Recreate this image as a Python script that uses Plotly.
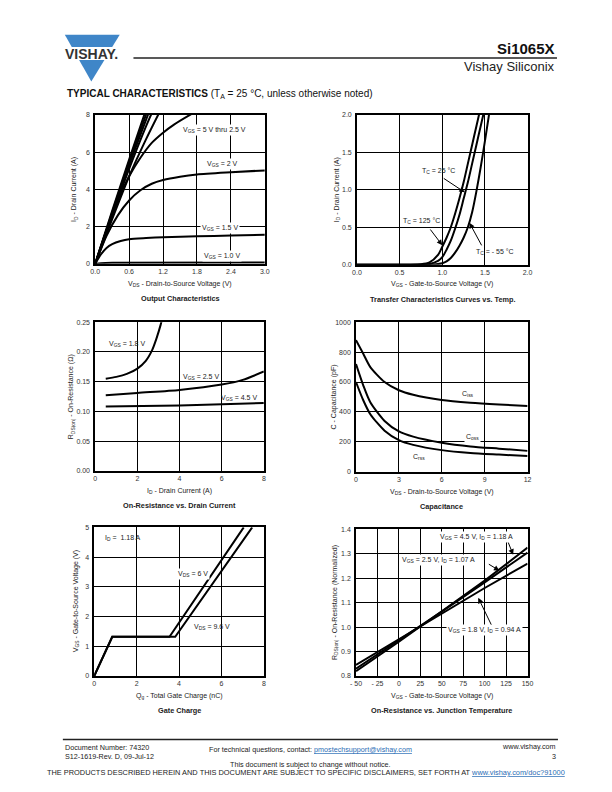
import plotly.graph_objects as go

PAGE_W, PAGE_H = 612, 792
W, H = PAGE_W, PAGE_H
FONT = "Liberation Sans, Arial, Helvetica, sans-serif"

# ---------------- data ----------------
# Output characteristics (VDS in V, ID in A)
oc_vgs5_x = [0, 0.3, 0.6, 0.9]
oc_vgs5_y = [0, 2.85, 5.6, 8.3]
oc_vgs45_x = [0, 0.3, 0.6, 0.92]
oc_vgs45_y = [0, 2.75, 5.45, 8.2]
oc_vgs4_x = [0, 0.3, 0.6, 0.95]
oc_vgs4_y = [0, 2.7, 5.3, 8.15]
oc_vgs35_x = [0, 0.3, 0.6, 0.9, 1.0]
oc_vgs35_y = [0, 2.6, 5.1, 7.4, 8.1]
oc_vgs3_x = [0, 0.3, 0.6, 0.9, 1.12]
oc_vgs3_y = [0, 2.4, 4.7, 6.7, 8.05]
oc_vgs25_x = [0, 0.2, 0.4, 0.6, 0.8, 1.0, 1.2, 1.4, 1.7]
oc_vgs25_y = [0, 1.8, 3.4, 4.7, 5.7, 6.5, 7.05, 7.5, 8.05]
oc_vgs2_x = [0, 0.2, 0.4, 0.6, 0.8, 1.0, 1.2, 1.5, 1.8, 2.4, 3.0]
oc_vgs2_y = [0, 1.5, 2.6, 3.4, 3.95, 4.3, 4.5, 4.68, 4.8, 4.92, 5.02]
oc_vgs15_x = [0, 0.1, 0.2, 0.3, 0.45, 0.6, 0.9, 1.2, 1.8, 2.4, 3.0]
oc_vgs15_y = [0, 0.5, 0.85, 1.05, 1.22, 1.32, 1.38, 1.42, 1.47, 1.52, 1.56]
oc_vgs1_x = [0, 0.1, 0.3, 3.0]
oc_vgs1_y = [0, 0.03, 0.05, 0.06]

# Transfer characteristics (VGS in V, ID in A)
tr_125_x = [0, 0.6, 0.75, 0.85, 0.95, 1.0, 1.05, 1.1, 1.15, 1.2, 1.25, 1.3, 1.35, 1.4, 1.45]
tr_125_y = [0, 0, 0.005, 0.03, 0.13, 0.24, 0.36, 0.5, 0.68, 0.88, 1.1, 1.35, 1.6, 1.85, 2.1]
tr_25_x = [0, 0.7, 0.85, 0.95, 1.0, 1.05, 1.1, 1.15, 1.2, 1.25, 1.3, 1.35, 1.4, 1.45, 1.5]
tr_25_y = [0, 0, 0.01, 0.05, 0.1, 0.2, 0.32, 0.48, 0.66, 0.88, 1.1, 1.35, 1.6, 1.85, 2.1]
tr_m55_x = [0, 0.85, 0.95, 1.0, 1.05, 1.1, 1.15, 1.2, 1.25, 1.3, 1.35, 1.4, 1.45, 1.5, 1.55]
tr_m55_y = [0, 0, 0.01, 0.02, 0.045, 0.09, 0.16, 0.25, 0.36, 0.5, 0.7, 0.98, 1.3, 1.65, 2.02]

# On-resistance vs drain current (ID in A, RDS(on) in ohm)
ron_18_x = [0.5, 1.0, 1.5, 2.0, 2.4, 2.7, 2.9, 3.1, 3.2]
ron_18_y = [0.155, 0.158, 0.163, 0.172, 0.185, 0.203, 0.222, 0.245, 0.26]
ron_25_x = [0.5, 2, 4, 6, 7, 8]
ron_25_y = [0.127, 0.131, 0.136, 0.145, 0.153, 0.167]
ron_45_x = [0.5, 4, 8]
ron_45_y = [0.108, 0.110, 0.114]

# Capacitance (VDS in V, C in pF)
cap_v = [0, 0.5, 1, 2, 3, 4, 6, 8, 10, 12]
cap_ciss = [880, 790, 700, 600, 545, 515, 480, 462, 450, 440]
cap_coss = [720, 580, 465, 340, 270, 235, 195, 170, 155, 140]
cap_crss = [600, 480, 385, 275, 212, 180, 145, 126, 115, 105]

# Gate charge (Qg in nC, VGS in V)
gc_6_x = [0, 0.85, 3.55, 7.05]
gc_6_y = [0, 1.32, 1.32, 5.0]
gc_96_x = [0, 0.85, 3.82, 7.45]
gc_96_y = [0, 1.32, 1.32, 5.0]

# Normalized on-resistance vs junction temperature
tj = [-50, 0, 50, 100, 150]
rn_45 = [0.82, 0.94, 1.065, 1.19, 1.325]
rn_25 = [0.83, 0.945, 1.063, 1.183, 1.305]
rn_18 = [0.845, 0.95, 1.055, 1.16, 1.26]

# ticks
t1x = [0, 0.6, 1.2, 1.8, 2.4, 3.0]; t1xl = ["0.0", "0.6", "1.2", "1.8", "2.4", "3.0"]
t1y = [0, 2, 4, 6, 8]; t1yl = ["0", "2", "4", "6", "8"]
t2x = [0, 0.5, 1.0, 1.5, 2.0]; t2xl = ["0.0", "0.5", "1.0", "1.5", "2.0"]
t2y = [0, 0.5, 1.0, 1.5, 2.0]; t2yl = ["0.0", "0.5", "1.0", "1.5", "2.0"]
t3x = [0, 2, 4, 6, 8]; t3xl = ["0", "2", "4", "6", "8"]
t3y = [0, 0.05, 0.10, 0.15, 0.20, 0.25]; t3yl = ["0.00", "0.05", "0.10", "0.15", "0.20", "0.25"]
t4x = [0, 3, 6, 9, 12]; t4xl = ["0", "3", "6", "9", "12"]
t4y = [0, 200, 400, 600, 800, 1000]; t4yl = ["0", "200", "400", "600", "800", "1000"]
t5x = [0, 2, 4, 6, 8]; t5xl = ["0", "2", "4", "6", "8"]
t5y = [0, 1, 2, 3, 4, 5]; t5yl = ["0", "1", "2", "3", "4", "5"]
t6x = [-50, -25, 0, 25, 50, 75, 100, 125, 150]
t6xl = ["- 50", "- 25", "0", "25", "50", "75", "100", "125", "150"]
t6y = [0.8, 0.9, 1.0, 1.1, 1.2, 1.3, 1.4]; t6yl = ["0.8", "0.9", "1.0", "1.1", "1.2", "1.3", "1.4"]


def px(x):
    return x / W


def py(y):
    return 1 - y / H


# panel page-pixel boxes: left, right, top, bottom
panels = [
    (91, 264, 112, 262),
    (358, 532, 112, 263),
    (91, 263, 321, 471),
    (357, 532, 321, 472),
    (90, 263, 528, 678),
    (357, 532, 530, 678),
]
ranges = [
    ([0, 3], [0, 8], t1x, t1xl, t1y, t1yl),
    ([0, 2], [0, 2], t2x, t2xl, t2y, t2yl),
    ([0, 8], [0, 0.25], t3x, t3xl, t3y, t3yl),
    ([0, 12], [0, 1000], t4x, t4xl, t4y, t4yl),
    ([0, 8], [0, 5], t5x, t5xl, t5y, t5yl),
    ([-50, 150], [0.8, 1.4], t6x, t6xl, t6y, t6yl),
]

fig = go.Figure()
layout = dict(width=W, height=H, margin=dict(l=0, r=0, t=0, b=0),
              paper_bgcolor="white", plot_bgcolor="white",
              font=dict(family=FONT, color="#222", size=7), showlegend=False)
for i, ((l, r, t, b), (xr, yr, xv, xl, yv, yl)) in enumerate(zip(panels, ranges), start=1):
    common = dict(showgrid=True, gridcolor="black", gridwidth=1.1, showline=True,
                  linecolor="black", linewidth=1.6, mirror=True, ticks="",
                  zeroline=False, tickfont=dict(size=7, color="#333", family=FONT),
                  fixedrange=True)
    s = "" if i == 1 else str(i)
    layout["xaxis" + s] = dict(domain=[px(l), px(r)], range=xr, tickmode="array", tickvals=xv,
                               ticktext=xl, anchor="y" + s, ticklabelstandoff=0, **common)
    layout["yaxis" + s] = dict(domain=[py(b), py(t)], range=yr, tickmode="array", tickvals=yv,
                               ticktext=yl, anchor="x" + s, ticklabelstandoff=2, **common)
fig.update_layout(**layout)


def add_line(x, y, i, smooth=True):
    s = "" if i == 1 else str(i)
    line = dict(color="black", width=2)
    if smooth:
        line.update(shape="spline", smoothing=0.7)
    fig.add_trace(go.Scatter(x=x, y=y, mode="lines", line=line, xaxis="x" + s,
                             yaxis="y" + s, hoverinfo="skip", showlegend=False))


for x, y in [(oc_vgs5_x, oc_vgs5_y), (oc_vgs45_x, oc_vgs45_y), (oc_vgs4_x, oc_vgs4_y),
             (oc_vgs35_x, oc_vgs35_y), (oc_vgs3_x, oc_vgs3_y), (oc_vgs25_x, oc_vgs25_y),
             (oc_vgs2_x, oc_vgs2_y), (oc_vgs15_x, oc_vgs15_y), (oc_vgs1_x, oc_vgs1_y)]:
    add_line(x, y, 1)
for x, y in [(tr_125_x, tr_125_y), (tr_25_x, tr_25_y), (tr_m55_x, tr_m55_y)]:
    add_line(x, y, 2)
for x, y in [(ron_18_x, ron_18_y), (ron_25_x, ron_25_y), (ron_45_x, ron_45_y)]:
    add_line(x, y, 3)
for y in [cap_ciss, cap_coss, cap_crss]:
    add_line(cap_v, y, 4)
add_line(gc_6_x, gc_6_y, 5, smooth=False)
add_line(gc_96_x, gc_96_y, 5, smooth=False)
for y in [rn_45, rn_25, rn_18]:
    add_line(tj, y, 6, smooth=False)

ann = []


def label(i, x, y, text, bg=True):
    s = "" if i == 1 else str(i)
    ann.append(dict(xref="x" + s, yref="y" + s, x=x, y=y, text=text, showarrow=False,
                    xanchor="left", yanchor="middle", font=dict(size=7, color="#222"),
                    bgcolor="white" if bg else None, borderpad=1))


def arrow(i, tail, tip):
    s = "" if i == 1 else str(i)
    ann.append(dict(xref="x" + s, yref="y" + s, axref="x" + s, ayref="y" + s,
                    x=tip[0], y=tip[1], ax=tail[0], ay=tail[1], text="", showarrow=True,
                    arrowhead=2, arrowsize=1.1, arrowwidth=1, arrowcolor="black"))


label(1, 1.51, 7.2, "V<sub>GS</sub> = 5 V thru 2.5 V")
label(1, 1.94, 5.39, "V<sub>GS</sub> = 2 V")
label(1, 1.86, 1.92, "V<sub>GS</sub> = 1.5 V")
label(1, 1.89, 0.43, "V<sub>GS</sub> = 1.0 V")
label(2, 0.736, 1.258, "T<sub>C</sub> = 25 °C", bg=False)
arrow(2, (1.0, 1.166), (1.264, 0.967))
label(2, 0.517, 0.589, "T<sub>C</sub> = 125 °C", bg=False)
arrow(2, (0.847, 0.49), (1.0, 0.26))
label(2, 1.368, 0.172, "T<sub>C</sub> = - 55 °C", bg=False)
arrow(2, (1.471, 0.238), (1.318, 0.56))
label(3, 0.56, 0.213, "V<sub>GS</sub> = 1.8 V", bg=False)
label(3, 4.05, 0.158, "V<sub>GS</sub> = 2.5 V", bg=False)
label(3, 5.86, 0.123, "V<sub>GS</sub> = 4.5 V", bg=False)
label(4, 7.27, 523, "C<sub>iss</sub>", bg=False)
label(4, 7.54, 232, "C<sub>oss</sub>")
label(4, 3.84, 99, "C<sub>rss</sub>", bg=False)
label(5, 0.42, 4.63, "I<sub>D</sub> =  1.18 A", bg=False)
label(5, 3.84, 3.43, "V<sub>DS</sub> = 6 V")
label(5, 4.62, 1.65, "V<sub>DS</sub> = 9.6 V", bg=False)
label(6, 46, 1.37, "V<sub>GS</sub> = 4.5 V, I<sub>D</sub> = 1.18 A")
arrow(6, (126.8, 1.352), (133.2, 1.296))
label(6, 1.4, 1.274, "V<sub>GS</sub> = 2.5 V, I<sub>D</sub> = 1.07 A")
arrow(6, (103.1, 1.261), (117.2, 1.231))
label(6, 55.1, 0.989, "V<sub>GS</sub> = 1.8 V, I<sub>D</sub> = 0.94 A")
arrow(6, (108.5, 1.004), (92.5, 1.12))


def ptext(x, y, text, size=7, xanchor="center", bold=False, angle=0, color="#222"):
    ann.append(dict(xref="paper", yref="paper", x=px(x), y=py(y),
                    text=("<b>%s</b>" % text) if bold else text, showarrow=False,
                    xanchor=xanchor, yanchor="middle", textangle=angle,
                    font=dict(size=size, color=color, family=FONT)))


xt = ["V<sub>DS</sub> - Drain-to-Source Voltage (V)",
      "V<sub>GS</sub> - Gate-to-Source Voltage (V)",
      "I<sub>D</sub> - Drain Current (A)",
      "V<sub>DS</sub> - Drain-to-Source Voltage (V)",
      "Q<sub>g</sub> - Total Gate Charge (nC)",
      "V<sub>GS</sub> - Gate-to-Source Voltage (V)"]
yt = ["I<sub>D</sub> - Drain Current (A)",
      "I<sub>D</sub> - Drain Current (A)",
      "R<sub>DS(on)</sub> - On-Resistance (Ω)",
      "C - Capacitance (pF)",
      "V<sub>GS</sub> - Gate-to-Source Voltage (V)",
      "R<sub>DS(on)</sub> - On-Resistance (Normalized)"]
caps = ["Output Characteristics", "Transfer Characteristics Curves vs. Temp.",
        "On-Resistance vs. Drain Current", "Capacitance", "Gate Charge",
        "On-Resistance vs. Junction Temperature"]
ytx = [70, 337, 66, 335, 71, 335]
for (l, r, t, b), xtt, ytt, cp, yx in zip(panels, xt, yt, caps, ytx):
    ptext((l + r) / 2, b + 20, xtt)
    ptext(yx, (t + b) / 2, ytt, angle=-90)
    ptext((l + r) / 2, b + 35, cp, size=7.3, bold=True)

# header
ptext(87.5, 50, "VISHAY.", size=14, bold=True, color="#333")
ptext(562, 45, "Si1065X", size=15, xanchor="right", bold=True, color="#111")
ptext(562, 63, "Vishay Siliconix", size=13, xanchor="right", color="#222")
ptext(60, 91, "<b>TYPICAL CHARACTERISTICS</b> (T<sub>A</sub> = 25 °C, unless otherwise noted)",
      size=10, xanchor="left", color="#111")

# footer
LINK = "<span style='color:#2a6db5;text-decoration:underline'>%s</span>"
ptext(58, 750, "Document Number: 74320", size=7.2, xanchor="left")
ptext(58, 759.5, "S12-1619-Rev. D, 09-Jul-12", size=7.2, xanchor="left")
ptext(311, 752, "For technical questions, contact: " + LINK % "pmostechsupport@vishay.com", size=7.2)
ptext(563, 749.5, "www.vishay.com", size=7.2, xanchor="right")
ptext(563, 759, "3", size=7.2, xanchor="right")
ptext(311, 767, "This document is subject to change without notice.", size=7.2)
ptext(40, 775.5, "THE PRODUCTS DESCRIBED HEREIN AND THIS DOCUMENT ARE SUBJECT TO SPECIFIC DISCLAIMERS, SET FORTH AT "
      + LINK % "www.vishay.com/doc?91000", size=7.4, xanchor="left")

shapes = []
# logo
apex = (87, 78.3)
shapes.append(dict(type="path", xref="paper", yref="paper", line=dict(width=0), fillcolor="#3f86c8",
                   path="M %f,%f L %f,%f L %f,%f L %f,%f Z" % (px(60), py(31), px(116), py(31),
                                                               px(108.3), py(43.5), px(67.1), py(43.5))))
shapes.append(dict(type="path", xref="paper", yref="paper", line=dict(width=0), fillcolor="#3f86c8",
                   path="M %f,%f L %f,%f L %f,%f Z" % (px(74.6), py(56.5), px(100.4), py(56.5),
                                                        px(apex[0]), py(apex[1]))))
shapes.append(dict(type="line", xref="paper", yref="paper", x0=px(130), x1=px(562), y0=py(54.5), y1=py(54.5),
                   line=dict(color="#222", width=1.3)))
shapes.append(dict(type="line", xref="paper", yref="paper", x0=px(58), x1=px(563), y0=py(742), y1=py(742),
                   line=dict(color="#222", width=1.5)))

fig.update_layout(annotations=ann, shapes=shapes)
fig.write_html(
    "out.html",
    config={"displayModeBar": False},
    post_script="document.body.style.margin='0';document.body.style.overflow='hidden';",
)
